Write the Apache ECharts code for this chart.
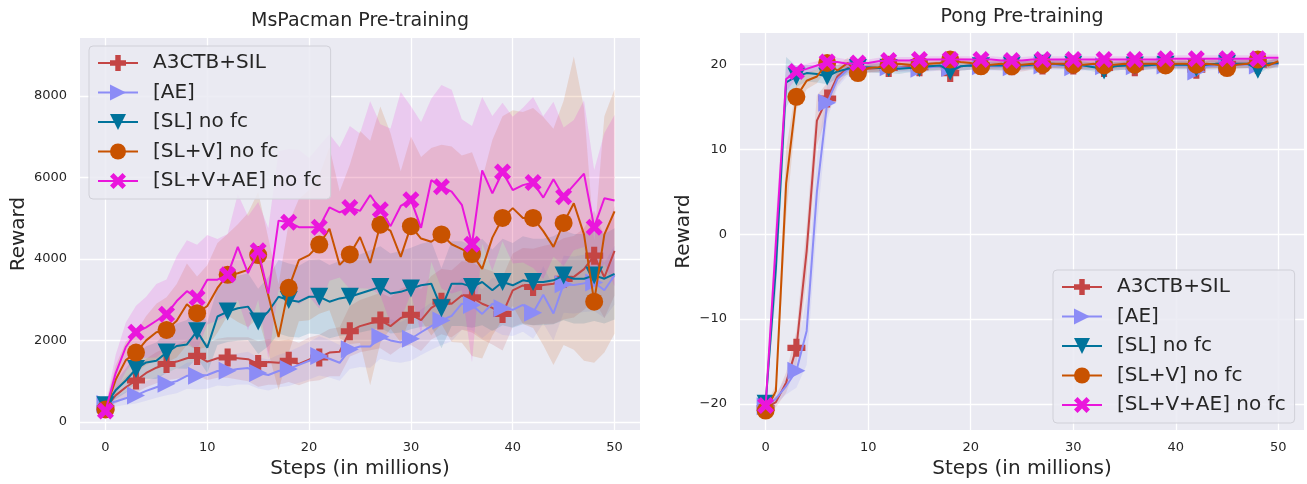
<!DOCTYPE html>
<html>
<head>
<meta charset="utf-8">
<script src="https://cdn.jsdelivr.net/npm/echarts@6/dist/echarts.min.js"></script>
<style>
  html, body { margin: 0; padding: 0; background: #ffffff; }
  #chart { width: 1307px; height: 484px; }
</style>
</head>
<body>
<div id="chart"></div>
<script>
var chart = echarts.init(document.getElementById('chart'), null, { renderer: 'canvas' })

// x positions: one point per million steps
var steps = []
for (var i = 0; i <= 50; i++) steps.push(i)

var names = ['A3CTB+SIL', '[AE]', '[SL] no fc', '[SL+V] no fc', '[SL+V+AE] no fc']
var colors = ['#C44545', '#8C8CF6', '#00739B', '#C85200', '#EA16DC']

// MsPacman mean reward
var pacA3ctb = [330, 650, 850, 1015, 1200, 1330, 1420, 1480, 1560, 1620, 1480, 1560, 1580, 1560, 1540, 1420, 1470, 1450, 1500, 1420, 1530, 1580, 1700, 1720, 2225, 2350, 2420, 2490, 2350, 2550, 2630, 2500, 2800, 2950, 2900, 3100, 3055, 2900, 2800, 2650, 3230, 3350, 3310, 3360, 3390, 3510, 3560, 3750, 4080, 3550, 4200]
var pacAe = [440, 500, 580, 650, 760, 850, 935, 1000, 1130, 1135, 1150, 1250, 1255, 1300, 1320, 1200, 1150, 1250, 1300, 1400, 1500, 1620, 1550, 1450, 1780, 1850, 1850, 2090, 2000, 1950, 2040, 2200, 2350, 2490, 2600, 2900, 2870, 2650, 2900, 2790, 2750, 2870, 2680, 3120, 2660, 3380, 3360, 3400, 3420, 3230, 3600]
var pacSl = [411, 774, 1016, 1298, 1459, 1500, 1700, 1862, 1902, 2225, 1822, 2587, 2708, 2789, 2829, 2466, 2708, 3071, 2990, 2950, 3071, 3071, 2950, 3031, 3071, 3151, 3232, 3313, 3151, 3192, 3272, 3353, 3393, 2789, 3393, 3393, 3313, 3434, 3232, 3434, 3353, 3474, 3434, 3434, 3474, 3595, 3514, 3514, 3595, 3514, 3635]
var pacSlv = [306, 1032, 1515, 1700, 2000, 2200, 2257, 2482, 2885, 2668, 2845, 3288, 3610, 3650, 3730, 4094, 3100, 2080, 3290, 3970, 4094, 4352, 4740, 3853, 4110, 4538, 3900, 4840, 4686, 4050, 4804, 4500, 4420, 4602, 4360, 4240, 4119, 3756, 4522, 5005, 5247, 5005, 5005, 4683, 4296, 4884, 5368, 4602, 2950, 4602, 5166]
var pacSlvae = [266, 1193, 1838, 2200, 2321, 2482, 2644, 2966, 3208, 3047, 3490, 3490, 3610, 4296, 3650, 4200, 3150, 4940, 4900, 4780, 4780, 4780, 5263, 5142, 5263, 5180, 5570, 5207, 4804, 5300, 5450, 4763, 5932, 5771, 5650, 5328, 4360, 6174, 5610, 6134, 5690, 5811, 5876, 5505, 5956, 5529, 5811, 6093, 4780, 5489, 5432]

// MsPacman spread (std)
var pacA3ctbStd = [80, 200, 250, 300, 350, 380, 400, 420, 450, 480, 450, 480, 500, 520, 540, 560, 560, 540, 520, 520, 540, 560, 580, 600, 620, 640, 660, 680, 700, 720, 740, 760, 780, 800, 820, 840, 860, 880, 900, 900, 900, 920, 940, 960, 980, 1000, 1000, 1000, 1100, 1000, 1100]
var pacAeStd = [60, 120, 160, 200, 240, 260, 280, 300, 320, 340, 340, 360, 380, 380, 400, 380, 380, 400, 420, 440, 460, 480, 460, 440, 480, 500, 520, 540, 520, 500, 540, 560, 580, 600, 620, 640, 620, 600, 640, 660, 640, 660, 640, 700, 660, 700, 700, 700, 700, 680, 720]
var pacSlStd = [80, 220, 300, 350, 400, 450, 500, 550, 600, 650, 620, 700, 750, 800, 820, 800, 850, 900, 900, 880, 900, 920, 900, 920, 940, 960, 980, 1000, 980, 1000, 1000, 1020, 1040, 980, 1040, 1040, 1000, 1060, 1000, 1060, 1040, 1080, 1060, 1060, 1080, 1100, 1100, 1100, 1120, 1100, 1120]
var pacSlvStd = [100, 350, 450, 500, 600, 700, 800, 900, 1000, 900, 1000, 1100, 1000, 1200, 1400, 1550, 1400, 1300, 1600, 1500, 1600, 1700, 2000, 1800, 2200, 2600, 3000, 2900, 2400, 2100, 2200, 2000, 2300, 2200, 2400, 2300, 2500, 2200, 2400, 2500, 2400, 2600, 2700, 2800, 2900, 3000, 3600, 3100, 1500, 2900, 3000]
var pacSlvaeStd = [100, 450, 600, 650, 750, 900, 850, 1100, 1250, 1300, 1100, 1000, 1000, 1300, 1400, 1200, 1600, 1700, 1800, 1900, 1700, 2000, 1800, 1600, 2000, 1900, 2300, 2100, 2400, 2800, 2300, 2600, 2000, 2500, 2500, 2100, 2900, 1800, 1900, 1700, 1800, 1900, 2100, 2000, 1900, 1700, 1600, 1800, 1400, 1600, 2100]

// Pong mean reward
var pongA3ctb = [-20.5, -19.8, -17.5, -13.4, -2, 13.4, 16.0, 18.6, 19.6, 19.4, 19.5, 19.6, 19.6, 19.7, 19.8, 19.7, 19.8, 19.8, 19.0, 19.8, 19.9, 19.9, 19.9, 19.9, 19.8, 19.8, 19.9, 19.9, 20.0, 20.0, 19.9, 19.9, 19.9, 19.6, 19.8, 19.9, 19.7, 19.9, 20.0, 20.0, 20.0, 20.0, 19.4, 20.0, 20.1, 20.1, 20.1, 20.1, 20.0, 20.1, 20.2]
var pongAe = [-20.3, -19.4, -17.9, -16.1, -11.4, 5, 15.5, 18.3, 19.4, 19.6, 19.6, 19.6, 19.7, 19.7, 19.6, 19.5, 19.7, 19.8, 19.6, 19.8, 19.9, 19.8, 19.8, 19.8, 19.7, 19.8, 19.9, 19.9, 19.9, 19.9, 19.7, 19.8, 19.9, 19.8, 19.9, 19.9, 19.8, 19.9, 19.9, 19.9, 19.9, 19.9, 19.2, 19.8, 19.9, 20.0, 20.0, 20.0, 19.9, 20.0, 20.1]
var pongSl = [-20.0, -4, 17.9, 18.6, 19.0, 18.9, 18.6, 19.2, 19.5, 19.6, 19.7, 19.6, 19.6, 19.5, 19.6, 19.6, 19.8, 19.9, 19.2, 19.8, 19.9, 19.8, 19.9, 19.9, 19.9, 19.9, 20.0, 20.1, 20.1, 20.0, 20.0, 19.9, 19.7, 19.3, 19.8, 19.9, 19.9, 19.9, 20.0, 20.0, 20.0, 20.0, 19.6, 20.0, 20.1, 20.1, 20.1, 20.1, 19.4, 20.1, 20.2]
var pongSlv = [-20.8, -18.5, 6, 16.2, 18.1, 18.6, 20.2, 19.3, 20.2, 19.0, 19.6, 19.7, 20.0, 20.1, 20.0, 20.0, 20.1, 20.2, 20.6, 20.3, 20.2, 19.8, 20.0, 20.1, 19.8, 20.0, 20.1, 20.0, 20.1, 20.1, 20.0, 20.0, 20.1, 19.9, 20.0, 20.1, 20.0, 20.1, 20.1, 19.9, 20.1, 20.1, 20.0, 20.1, 20.0, 19.6, 20.0, 20.1, 20.6, 19.9, 20.4]
var pongSlvae = [-20.2, -1, 18.3, 19.2, 19.5, 19.9, 20.3, 20.3, 20.1, 20.2, 20.2, 20.4, 20.5, 20.5, 20.5, 20.6, 20.6, 20.6, 20.6, 20.6, 20.6, 20.6, 20.6, 20.5, 20.5, 20.5, 20.6, 20.6, 20.6, 20.6, 20.6, 20.6, 20.6, 20.6, 20.6, 20.6, 20.6, 20.6, 20.6, 20.7, 20.7, 20.7, 20.7, 20.7, 20.7, 20.7, 20.7, 20.7, 20.7, 20.8, 20.8]

// Pong spread (std)
var pongA3ctbStd = [0.4, 0.6, 1.2, 2.0, 3.0, 3.0, 1.8, 1.0, 0.6, 0.6, 0.5, 0.5, 0.5, 0.5, 0.5, 0.5, 0.5, 0.5, 0.7, 0.5, 0.5, 0.5, 0.5, 0.6, 0.7, 0.6, 0.5, 0.5, 0.5, 0.5, 0.5, 0.5, 0.5, 0.6, 0.5, 0.5, 0.6, 0.5, 0.5, 0.5, 0.5, 0.5, 0.6, 0.5, 0.5, 0.5, 0.5, 0.5, 0.5, 0.5, 0.5]
var pongAeStd = [0.4, 0.6, 1.0, 2.0, 4.0, 4.0, 2.0, 1.0, 0.7, 0.6, 0.5, 0.5, 0.5, 0.5, 0.5, 0.5, 0.5, 0.5, 0.5, 0.5, 0.5, 0.5, 0.5, 0.5, 0.5, 0.5, 0.5, 0.5, 0.5, 0.5, 0.5, 0.5, 0.5, 0.5, 0.5, 0.5, 0.5, 0.5, 0.5, 0.5, 0.5, 0.5, 0.6, 0.5, 0.5, 0.5, 0.5, 0.5, 0.5, 0.5, 0.5]
var pongSlStd = [0.4, 3.0, 3.0, 1.2, 1.0, 1.0, 0.9, 0.8, 0.7, 0.6, 0.6, 0.6, 0.6, 0.6, 0.5, 0.5, 0.5, 0.5, 0.6, 0.5, 0.5, 0.5, 0.5, 0.5, 0.5, 0.5, 0.5, 0.5, 0.5, 0.5, 0.5, 0.5, 0.5, 0.6, 0.5, 0.5, 0.5, 0.5, 0.5, 0.5, 0.5, 0.5, 0.5, 0.5, 0.5, 0.5, 0.5, 0.5, 0.6, 0.5, 0.5]
var pongSlvStd = [0.4, 0.8, 4.0, 1.5, 1.0, 0.8, 0.6, 0.6, 0.6, 0.6, 0.5, 0.5, 0.5, 0.5, 0.5, 0.5, 0.5, 0.5, 0.5, 0.5, 0.5, 0.5, 0.5, 0.5, 0.6, 0.5, 0.5, 0.5, 0.5, 0.5, 0.5, 0.5, 0.5, 0.5, 0.5, 0.5, 0.5, 0.5, 0.5, 0.5, 0.5, 0.5, 0.5, 0.5, 0.5, 0.6, 0.5, 0.5, 0.5, 0.5, 0.5]
var pongSlvaeStd = [0.4, 3.0, 1.5, 0.8, 0.6, 0.5, 0.5, 0.5, 0.5, 0.5, 0.4, 0.4, 0.4, 0.4, 0.4, 0.4, 0.4, 0.4, 0.4, 0.4, 0.4, 0.4, 0.4, 0.4, 0.4, 0.4, 0.4, 0.4, 0.4, 0.4, 0.4, 0.4, 0.4, 0.4, 0.4, 0.4, 0.4, 0.4, 0.4, 0.4, 0.4, 0.4, 0.4, 0.4, 0.4, 0.4, 0.4, 0.4, 0.4, 0.4, 0.4]

var pacMeans = [pacA3ctb, pacAe, pacSl, pacSlv, pacSlvae]
var pacStds = [pacA3ctbStd, pacAeStd, pacSlStd, pacSlvStd, pacSlvaeStd]
var pongMeans = [pongA3ctb, pongAe, pongSl, pongSlv, pongSlvae]
var pongStds = [pongA3ctbStd, pongAeStd, pongSlStd, pongSlvStd, pongSlvaeStd]

var symbols = [
  'path://M3.3,0 H6.7 V3.3 H10 V6.7 H6.7 V10 H3.3 V6.7 H0 V3.3 H3.3 Z',
  'path://M0,0 L10,5 L0,10 Z',
  'path://M0,0 L10,0 L5,10 Z',
  'circle',
  'path://M0,2.2 L2.2,0 L5,2.8 L7.8,0 L10,2.2 L7.2,5 L10,7.8 L7.8,10 L5,7.2 L2.2,10 L0,7.8 L2.8,5 Z'
]
var symbolSizes = [18, 18, 18, 18, 17]

var FONT = 'DejaVu Sans'
var TEXT = '#262626'

function pairs(ys) {
  return ys.map(function (y, i) { return [steps[i], y] })
}

// mean +/- std band drawn as one polygon through the axis scales
function bandSeries(mean, std, color, axis) {
  var upper = mean.map(function (m, i) { return m + std[i] })
  var lower = mean.map(function (m, i) { return m - std[i] })
  return {
    type: 'custom', xAxisIndex: axis, yAxisIndex: axis, silent: true, z: 1,
    data: [[steps[0], mean[0]]],
    renderItem: function (params, api) {
      var pts = []
      for (var i = 0; i < steps.length; i++) pts.push(api.coord([steps[i], upper[i]]))
      for (var j = steps.length - 1; j >= 0; j--) pts.push(api.coord([steps[j], lower[j]]))
      return {
        type: 'polygon',
        shape: { points: pts },
        style: { fill: color, opacity: 0.15 }
      }
    }
  }
}

function buildSeries(means, stds, axis) {
  var out = []
  for (var k = 0; k < names.length; k++) {
    out.push(bandSeries(means[k], stds[k], colors[k], axis))
  }
  for (var k = 0; k < names.length; k++) {
    (function (k) {
      out.push({
        name: names[k], type: 'line', xAxisIndex: axis, yAxisIndex: axis,
        data: pairs(means[k]),
        symbol: symbols[k],
        symbolSize: function (v, p) { return p.dataIndex % 3 === 0 ? symbolSizes[k] : 0 },
        showSymbol: true, showAllSymbol: true,
        color: colors[k],
        itemStyle: { color: colors[k] },
        lineStyle: { color: colors[k], width: 2 },
        z: 3 + k
      })
    })(k)
  }
  return out
}

function xAxisOpt(idx) {
  return {
    type: 'value', gridIndex: idx, min: -2.5, max: 52.5, splitNumber: 5,
    name: 'Steps (in millions)', nameLocation: 'middle', nameGap: 28,
    nameTextStyle: { fontFamily: FONT, fontSize: 20, color: TEXT },
    axisLine: { show: false }, axisTick: { show: false },
    axisLabel: { fontFamily: FONT, fontSize: 13, color: TEXT, margin: 11, showMinLabel: false, showMaxLabel: false },
    splitLine: { show: true, showMinLine: false, showMaxLine: false, lineStyle: { color: '#ffffff', width: 1.3 } }
  }
}

function yAxisOpt(idx, min, max, gap) {
  return {
    type: 'value', gridIndex: idx, min: min, max: max, splitNumber: 5,
    name: 'Reward', nameLocation: 'middle', nameGap: gap, nameRotate: 90,
    nameTextStyle: { fontFamily: FONT, fontSize: 20, color: TEXT },
    axisLine: { show: false }, axisTick: { show: false },
    axisLabel: {
      fontFamily: FONT, fontSize: 13, color: TEXT, margin: 13, showMinLabel: false, showMaxLabel: false,
      formatter: function (v) { return v < 0 ? '\u2212' + Math.abs(v) : String(v) }
    },
    splitLine: { show: true, showMinLine: false, showMaxLine: false, lineStyle: { color: '#ffffff', width: 1.3 } }
  }
}

function legendOpt(left, top) {
  return {
    data: names, orient: 'vertical', left: left, top: top,
    itemWidth: 40, itemHeight: 20, itemGap: 9.5,
    padding: [7, 9, 8, 8],
    backgroundColor: 'rgba(234,234,242,0.85)',
    borderColor: '#d0d0d8', borderWidth: 1, borderRadius: 4,
    textStyle: { fontFamily: FONT, fontSize: 20, color: TEXT, lineHeight: 20, padding: [0, 0, 0, 10] },
    selectedMode: false
  }
}

option = {
  backgroundColor: '#ffffff',
  animation: false,
  title: [
    { text: 'MsPacman Pre-training', left: 360, top: 12, textAlign: 'center', padding: 0,
      textStyle: { fontFamily: FONT, fontSize: 19, fontWeight: 'normal', color: TEXT } },
    { text: 'Pong Pre-training', left: 1022, top: 8, textAlign: 'center', padding: 0,
      textStyle: { fontFamily: FONT, fontSize: 19, fontWeight: 'normal', color: TEXT } }
  ],
  grid: [
    { left: 80, right: 667, top: 38, bottom: 49, show: true, backgroundColor: '#EAEAF2', borderWidth: 0 },
    { left: 740, right: 3, top: 33, bottom: 49, show: true, backgroundColor: '#EAEAF2', borderWidth: 0 }
  ],
  xAxis: [xAxisOpt(0), xAxisOpt(1)],
  yAxis: [yAxisOpt(0, -202, 9423, 51), yAxisOpt(1, -23.1, 23.73, 46)],
  legend: [legendOpt(89, 46), legendOpt(1053, 270)],
  series: buildSeries(pacMeans, pacStds, 0).concat(buildSeries(pongMeans, pongStds, 1))
}

chart.setOption(option)
</script>
</body>
</html>
